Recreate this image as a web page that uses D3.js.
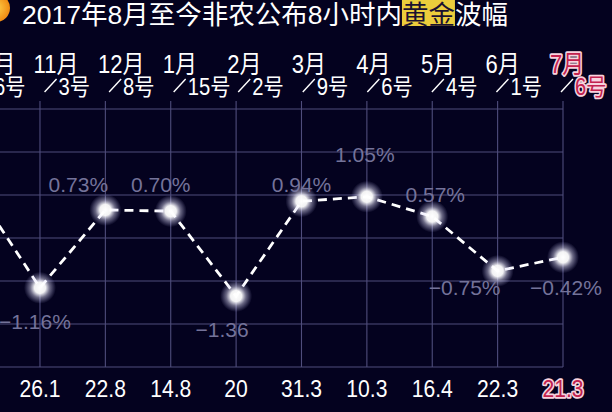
<!DOCTYPE html>
<meta charset="utf-8">
<style>
body { margin: 0; background: #04021f; }
svg { display: block; }
text { font-family: "Liberation Sans", "Noto Sans CJK SC", sans-serif; }
.grid line { stroke: #4f4d7c; stroke-width: 1.1px; }
.swing { fill: none; stroke: #fff; stroke-width: 2.8px; stroke-dasharray: 9 6; }
.pct { fill: #74739a; font-size: 21px; text-anchor: middle; }
.amp { fill: #fff; font-size: 24px; text-anchor: middle; }
.hot { fill: #c2214f !important; stroke: #f7d3de; stroke-width: 3.5px; paint-order: stroke; stroke-linejoin: round; }
</style>
<svg width="612" height="412"></svg>
<script src="https://cdn.jsdelivr.net/npm/d3@7"></script>
<script>

// data (first column is cut off at the left edge)
var months = ["10月", "11月", "12月", "1月", "2月", "3月", "4月", "5月", "6月", "7月"];
var days = ["6号", "3号", "8号", "15号", "2号", "9号", "6号", "4号", "1号", "6号"];
var swings = [1.26, -1.16, 0.73, 0.70, -1.36, 0.94, 1.05, 0.57, -0.75, -0.42];
var swingLabels = ["", "−1.16%", "0.73%", "0.70%", "−1.36", "0.94%", "1.05%", "0.57%", "−0.75%", "−0.42%"];
var amplitudes = [null, 26.1, 22.8, 14.8, 20, 31.3, 10.3, 16.4, 22.3, 21.3];

// label nudges (layout only)
var labelNudge = [[0, 0], [-5, 41], [-27, -18], [-10, -19], [-14, 41], [0, -9], [-2, -35], [3, -15], [-33, 24], [3, 38]];

var svg = d3.select("svg");
var last = months.length - 1;
var squeeze = 0.88;

var x = d3.scaleLinear()
    .domain([0, last])
    .range([-25.4, 563]);

var hx = d3.scaleLinear()
    .domain([0, last])
    .range([-31, 550]);

var y = d3.scaleLinear()
    .domain([-1.5, 1.5])
    .range([301.8, 178.2]);

var rows = d3.scaleLinear()
    .domain([0, 6])
    .range([109, 367]);

// glow for the points
var defs = svg.append("defs");
var glow = defs.append("radialGradient").attr("id", "glow");
glow.append("stop").attr("offset", "0%").attr("stop-color", "#fff").attr("stop-opacity", 1);
glow.append("stop").attr("offset", "35%").attr("stop-color", "#fff").attr("stop-opacity", 0.95);
glow.append("stop").attr("offset", "62%").attr("stop-color", "#e8e6ff").attr("stop-opacity", 0.45);
glow.append("stop").attr("offset", "100%").attr("stop-color", "#c8c6ff").attr("stop-opacity", 0);

var sun = defs.append("radialGradient").attr("id", "sun");
sun.append("stop").attr("offset", "0%").attr("stop-color", "#ffd24a");
sun.append("stop").attr("offset", "100%").attr("stop-color", "#f08a12");

// title
svg.append("circle").attr("cx", -4).attr("cy", 8).attr("r", 14).attr("fill", "url(#sun)");

var title = svg.append("g").attr("transform", "translate(22,24)");
var parts = ["2017年8月至今非农公布8小时内", "黄金", "波幅"];
var tx = 0;
parts.forEach(function(p, i) {
    var t = title.append("text")
        .attr("x", tx)
        .attr("font-size", 26.5)
        .attr("fill", i == 1 ? "#1c1230" : "#fff")
        .text(p);
    var w = t.node().getComputedTextLength();
    if (i == 1) {
        title.insert("rect", "text")
            .attr("x", tx).attr("y", -24)
            .attr("width", w).attr("height", 26)
            .attr("fill", "#eccd3c");
    }
    tx += w;
});

// grid
var grid = svg.append("g").attr("class", "grid");
grid.selectAll(".h")
    .data(d3.range(7))
    .enter().append("line")
    .attr("x1", 0).attr("x2", x(last))
    .attr("y1", function(d) { return rows(d); })
    .attr("y2", function(d) { return rows(d); });
grid.selectAll(".v")
    .data(months)
    .enter().append("line")
    .attr("x1", function(d, i) { return x(i); })
    .attr("x2", function(d, i) { return x(i); })
    .attr("y1", 101).attr("y2", rows(6));

// header: month / day
var head = svg.append("g")
    .selectAll("g")
    .data(months)
    .enter().append("g")
    .attr("transform", function(d, i) { return "translate(" + hx(i) + ",0)"; });

head.append("line")
    .attr("x1", 11).attr("y1", 92)
    .attr("x2", 23).attr("y2", 79)
    .attr("stroke", "#fff").attr("stroke-width", 1.4);

head.append("text")
    .attr("transform", "translate(0,73) scale(" + squeeze + ",1)")
    .attr("font-size", 25)
    .attr("fill", "#fff")
    .attr("class", function(d, i) { return i == last ? "hot" : null; })
    .text(function(d) { return d; });

head.append("text")
    .attr("transform", "translate(25,95) scale(" + squeeze + ",1)")
    .attr("font-size", 23)
    .attr("fill", "#fff")
    .attr("class", function(d, i) { return i == last ? "hot" : null; })
    .text(function(d, i) { return days[i]; });

// dashed line
var line = d3.line()
    .x(function(d, i) { return x(i); })
    .y(function(d) { return y(d); });

svg.append("path")
    .datum(swings)
    .attr("class", "swing")
    .attr("d", line);

svg.append("g")
    .selectAll("circle")
    .data(swings)
    .enter().append("circle")
    .attr("cx", function(d, i) { return x(i); })
    .attr("cy", function(d) { return y(d); })
    .attr("r", 16)
    .attr("fill", "url(#glow)");

svg.append("g")
    .selectAll("text")
    .data(swingLabels)
    .enter().append("text")
    .attr("class", "pct")
    .attr("x", function(d, i) { return x(i) + labelNudge[i][0]; })
    .attr("y", function(d, i) { return y(swings[i]) + labelNudge[i][1]; })
    .text(function(d) { return d; });

// bottom amplitudes
svg.append("g")
    .selectAll("text")
    .data(amplitudes)
    .enter().append("text")
    .attr("class", function(d, i) { return i == last ? "amp hot" : "amp"; })
    .attr("transform", function(d, i) { return "translate(" + x(i) + ",397) scale(" + squeeze + ",1)"; })
    .text(function(d) { return d == null ? "" : d; });

</script>
